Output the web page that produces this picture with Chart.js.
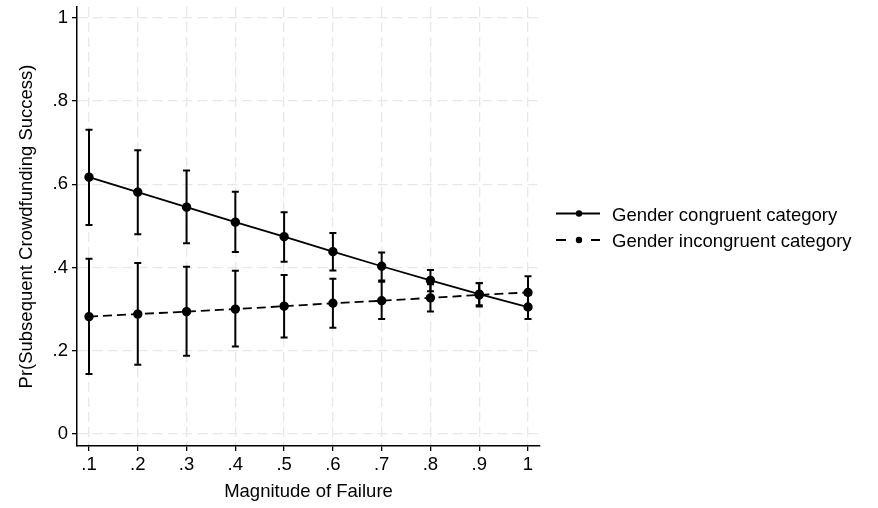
<!DOCTYPE html>
<html lang="en">
<head>
<meta charset="UTF-8">
<title>Pr(Subsequent Crowdfunding Success) by Magnitude of Failure</title>
<script src="https://cdn.jsdelivr.net/npm/chart.js"></script>
<style>
  html, body { margin: 0; padding: 0; background: #fff; }
  #wrap { width: 878px; height: 508px; position: relative; }
</style>
</head>
<body>
<div id="wrap"><canvas id="chart"></canvas></div>
<script>
// values
const magnitude = [0.1, 0.2, 0.3, 0.4, 0.5, 0.6, 0.7, 0.8, 0.9, 1];
const congruent = [0.617, 0.581, 0.545, 0.509, 0.474, 0.438, 0.403, 0.369, 0.336, 0.305];
const congruentLo = [0.502, 0.480, 0.458, 0.437, 0.414, 0.393, 0.369, 0.343, 0.309, 0.276];
const congruentHi = [0.731, 0.682, 0.633, 0.582, 0.533, 0.483, 0.436, 0.394, 0.363, 0.334];
const incongruent = [0.282, 0.288, 0.294, 0.300, 0.307, 0.314, 0.320, 0.327, 0.334, 0.340];
const incongruentLo = [0.144, 0.166, 0.188, 0.210, 0.232, 0.255, 0.276, 0.294, 0.306, 0.301];
const incongruentHi = [0.421, 0.411, 0.402, 0.392, 0.382, 0.373, 0.366, 0.360, 0.362, 0.379];
const xTicks = [0.1, 0.2, 0.3, 0.4, 0.5, 0.6, 0.7, 0.8, 0.9, 1];
const yTicks = [0, 0.2, 0.4, 0.6, 0.8, 1];
const seriesLabels = ['Gender congruent category', 'Gender incongruent category'];

const FONT = '"Liberation Sans", Arial, sans-serif';
const FSIZE = 18.5;

function fmt(v) {
  if (v === 0) return '0';
  if (v === 1) return '1';
  return String(v).replace(/^0/, '');
}

const errorBars = {
  id: 'errorBars',
  beforeDatasetsDraw(chart) {
    const ctx = chart.ctx;
    const xs = chart.scales.x, ys = chart.scales.y;
    const sets = [[congruentLo, congruentHi], [incongruentLo, incongruentHi]];
    ctx.save();
    ctx.strokeStyle = '#000';
    ctx.lineWidth = 2;
    sets.forEach(([lo, hi]) => {
      magnitude.forEach((m, i) => {
        const x = xs.getPixelForValue(m);
        const y1 = ys.getPixelForValue(lo[i]);
        const y2 = ys.getPixelForValue(hi[i]);
        ctx.beginPath();
        ctx.moveTo(x, y1); ctx.lineTo(x, y2);
        ctx.moveTo(x - 3.5, y1); ctx.lineTo(x + 3.5, y1);
        ctx.moveTo(x - 3.5, y2); ctx.lineTo(x + 3.5, y2);
        ctx.stroke();
      });
    });
    ctx.restore();
  }
};

// legend on the right: line with a dot, dashed one drawn as two short bits
const sideLegend = {
  id: 'sideLegend',
  afterDraw(chart) {
    const ctx = chart.ctx;
    const rows = [
      {y: 213.5, segs: [[556, 600]]},
      {y: 240, segs: [[556, 566], [591, 600]]}
    ];
    ctx.save();
    rows.forEach((r, i) => {
      ctx.strokeStyle = '#000';
      ctx.lineWidth = 1.8;
      ctx.beginPath();
      r.segs.forEach(([a, b]) => { ctx.moveTo(a, r.y); ctx.lineTo(b, r.y); });
      ctx.stroke();
      ctx.beginPath();
      ctx.arc(579, r.y, 3.2, 0, Math.PI * 2);
      ctx.fillStyle = '#000';
      ctx.fill();
      ctx.font = FSIZE + 'px ' + FONT;
      ctx.textBaseline = 'middle';
      ctx.textAlign = 'left';
      ctx.fillText(chart.data.datasets[i].label, 612, r.y + 2);
    });
    ctx.restore();
  }
};

const gridOpts = {
  color: '#e8e8e8',
  lineWidth: 1.3,
  tickColor: '#000',
  tickLength: 5,
  tickWidth: 1.3,
  tickBorderDash: []
};

new Chart(document.getElementById('chart'), {
  type: 'line',
  data: {
    datasets: [
      {
        label: seriesLabels[0],
        data: magnitude.map((m, i) => ({x: m, y: congruent[i]})),
        borderColor: '#000',
        backgroundColor: '#000',
        borderWidth: 1.8,
        pointRadius: 3.8,
        pointHoverRadius: 3.8,
        tension: 0
      },
      {
        label: seriesLabels[1],
        data: magnitude.map((m, i) => ({x: m, y: incongruent[i]})),
        borderColor: '#000',
        backgroundColor: '#000',
        borderWidth: 1.8,
        borderDash: [9, 5],
        pointRadius: 3.8,
        pointHoverRadius: 3.8,
        tension: 0
      }
    ]
  },
  options: {
    responsive: true,
    maintainAspectRatio: false,
    animation: false,
    layout: { padding: { left: 0, top: 7, right: 338, bottom: 0 } },
    plugins: { legend: { display: false }, tooltip: { enabled: false } },
    scales: {
      x: {
        type: 'linear',
        min: 0.0754,
        max: 1.0246,
        afterBuildTicks: s => { s.ticks = xTicks.map(v => ({value: v})); },
        afterFit: s => { s.height = 62; s.paddingLeft = 0; s.paddingRight = 0; },
        grid: gridOpts,
        border: { display: true, color: '#000', width: 1.5, dash: [10, 5] },
        ticks: { color: '#000', padding: 3, font: { family: FONT, size: FSIZE }, callback: v => fmt(v), maxRotation: 0, autoSkip: false },
        title: { display: true, text: 'Magnitude of Failure', color: '#000', font: { family: FONT, size: FSIZE }, padding: { top: 0, bottom: 5 } }
      },
      y: {
        min: -0.029,
        max: 1.026,
        afterBuildTicks: s => { s.ticks = yTicks.map(v => ({value: v})); },
        afterFit: s => { s.width = 77; s.paddingTop = 0; s.paddingBottom = 0; },
        grid: gridOpts,
        border: { display: true, color: '#000', width: 1.5, dash: [10, 5] },
        ticks: { color: '#000', padding: 4, font: { family: FONT, size: FSIZE }, callback: v => fmt(v), autoSkip: false },
        title: { display: true, text: 'Pr(Subsequent Crowdfunding Success)', color: '#000', font: { family: FONT, size: FSIZE }, padding: { top: 16, bottom: 0 } }
      }
    }
  },
  plugins: [errorBars, sideLegend]
});
</script>
</body>
</html>
